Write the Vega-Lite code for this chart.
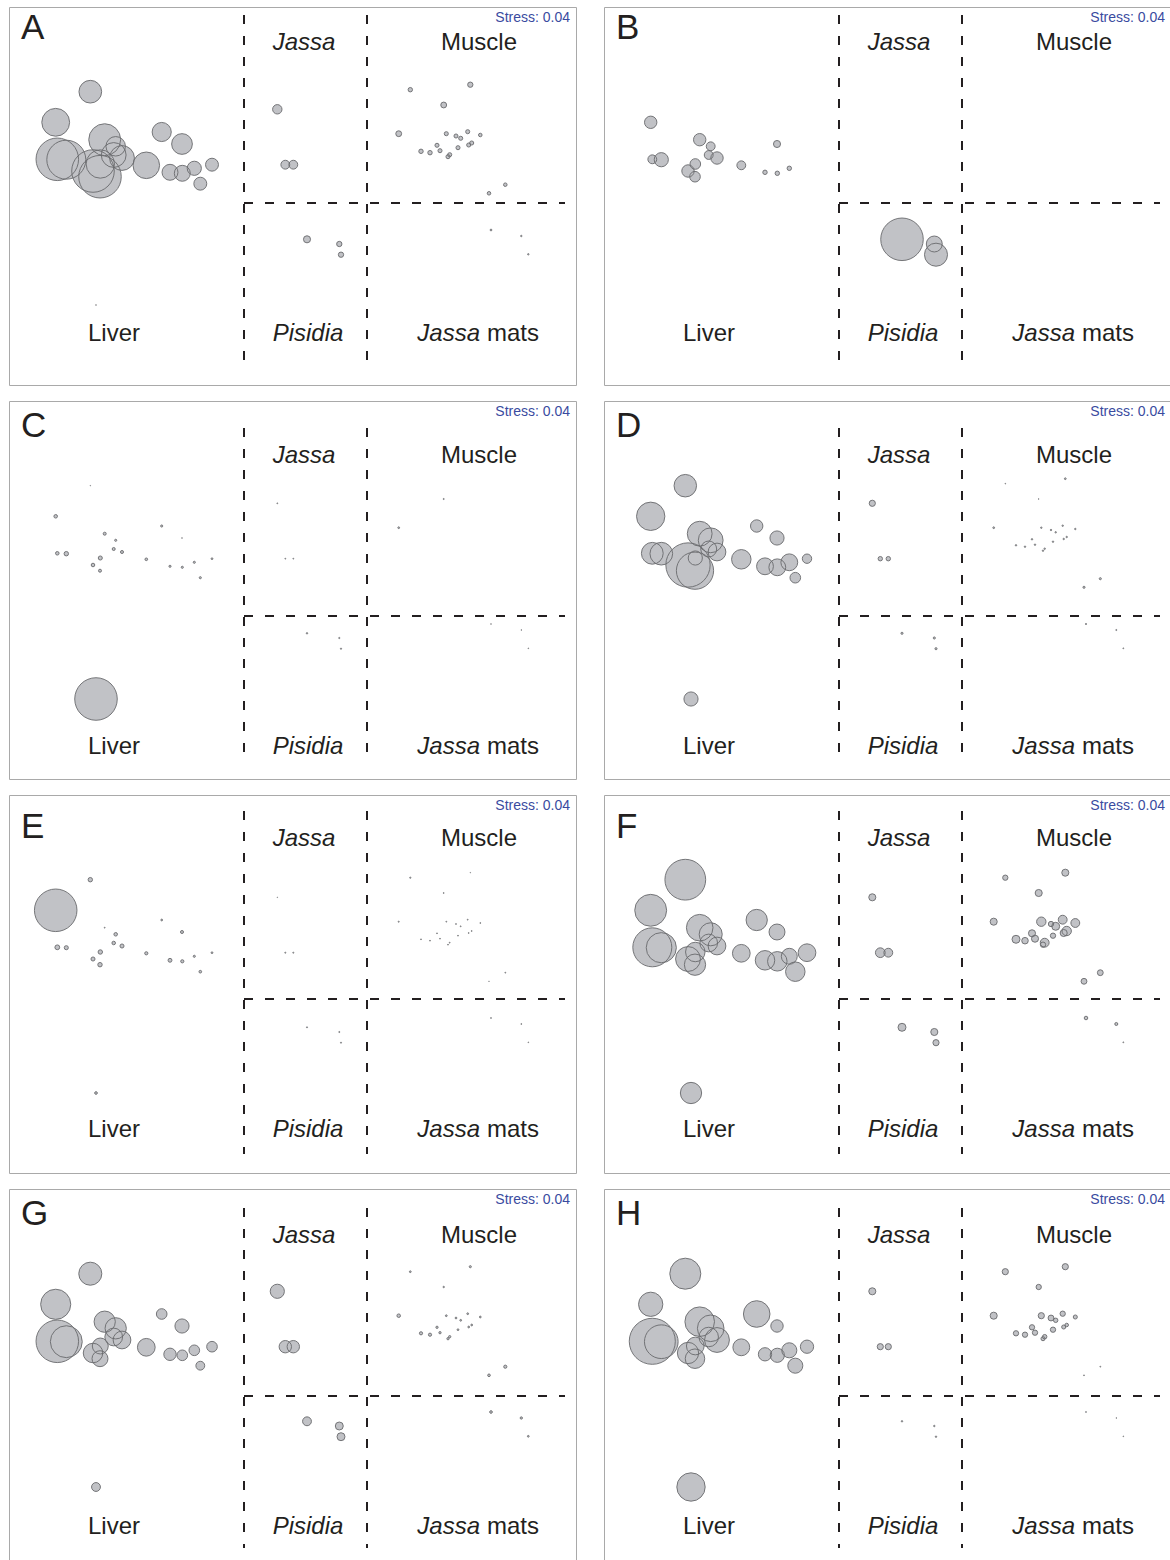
{
 "$schema": "https://vega.github.io/schema/vega-lite/v6.json",
 "padding": {"left": 8, "top": 6, "right": 0, "bottom": 0},
 "background": "white",
 "datasets": {
  "pos": [
   {"id":"L0","x":81.3,"y":84.7},{"id":"L1","x":46.7,"y":115.3},{"id":"L2","x":48.3,"y":152.3},{"id":"L3","x":57.3,"y":152.7},
   {"id":"L4","x":95.7,"y":132.7},{"id":"L5","x":106.7,"y":139.3},{"id":"L6","x":104.7,"y":148},{"id":"L7","x":113,"y":151},
   {"id":"L8","x":91.3,"y":157},{"id":"L9","x":84,"y":164},{"id":"L10","x":91,"y":169.7},{"id":"L11","x":137.3,"y":158.3},
   {"id":"L12","x":152.7,"y":125},{"id":"L13","x":173,"y":137},{"id":"L14","x":161,"y":165.3},{"id":"L15","x":173.3,"y":166.3},
   {"id":"L16","x":185.3,"y":161.3},{"id":"L17","x":203,"y":157.7},{"id":"L18","x":191.3,"y":176.7},{"id":"L19","x":87,"y":298},
   {"id":"J1","x":268.3,"y":102.3},{"id":"J2","x":276.3,"y":157.7},{"id":"J3","x":284.3,"y":157.7},
   {"id":"P1","x":298,"y":232.3},{"id":"P2","x":330.3,"y":237},{"id":"P3","x":332,"y":247.7},
   {"id":"M1","x":401.3,"y":82.7},{"id":"M2","x":461.3,"y":77.7},{"id":"M3","x":434.7,"y":98},{"id":"M4","x":389.7,"y":126.7},
   {"id":"M5","x":437.3,"y":126.7},{"id":"M6","x":447,"y":129},{"id":"M7","x":451.7,"y":131.3},{"id":"M8","x":458.7,"y":124.7},
   {"id":"M9","x":471.3,"y":128},{"id":"M10","x":462.7,"y":136},{"id":"M11","x":459.7,"y":138},{"id":"M12","x":449,"y":140.7},
   {"id":"M13","x":428,"y":138.3},{"id":"M14","x":431,"y":143.7},{"id":"M15","x":440.7,"y":147.7},{"id":"M16","x":439,"y":149.7},
   {"id":"M17","x":412,"y":144.3},{"id":"M18","x":421,"y":145.7},{"id":"M19","x":496.3,"y":177.7},{"id":"M20","x":480,"y":186.3},
   {"id":"JM1","x":482,"y":223},{"id":"JM2","x":512.3,"y":229},{"id":"JM3","x":519.3,"y":247.3}
  ],
  "sizes": [
   {"p":"A","id":"L0","r":12.8},{"p":"A","id":"L1","r":15.7},{"p":"A","id":"L2","r":24},{"p":"A","id":"L3","r":22},
   {"p":"A","id":"L4","r":18},{"p":"A","id":"L5","r":11},{"p":"A","id":"L6","r":14},{"p":"A","id":"L7","r":14},
   {"p":"A","id":"L8","r":16},{"p":"A","id":"L9","r":24},{"p":"A","id":"L10","r":24},{"p":"A","id":"L11","r":15},
   {"p":"A","id":"L12","r":10.8},{"p":"A","id":"L13","r":11.7},{"p":"A","id":"L14","r":9},{"p":"A","id":"L15","r":9},
   {"p":"A","id":"L16","r":8},{"p":"A","id":"L17","r":7.3},{"p":"A","id":"L18","r":7.3},{"p":"A","id":"L19","r":0.4},
   {"p":"A","id":"J1","r":5.3},{"p":"A","id":"J2","r":5},{"p":"A","id":"J3","r":5},
   {"p":"A","id":"P1","r":4},{"p":"A","id":"P2","r":3},{"p":"A","id":"P3","r":3},
   {"p":"A","id":"M1","r":2.5},{"p":"A","id":"M2","r":3},{"p":"A","id":"M3","r":3.3},{"p":"A","id":"M4","r":3.3},
   {"p":"A","id":"M5","r":2.3},{"p":"A","id":"M6","r":2.3},{"p":"A","id":"M7","r":2.3},{"p":"A","id":"M8","r":2.3},
   {"p":"A","id":"M9","r":2},{"p":"A","id":"M10","r":2.3},{"p":"A","id":"M11","r":2.3},{"p":"A","id":"M12","r":2.3},
   {"p":"A","id":"M13","r":2.3},{"p":"A","id":"M14","r":2.3},{"p":"A","id":"M15","r":2.3},{"p":"A","id":"M16","r":2.3},
   {"p":"A","id":"M17","r":2.5},{"p":"A","id":"M18","r":2.5},{"p":"A","id":"M19","r":2},{"p":"A","id":"M20","r":2},
   {"p":"A","id":"JM1","r":1},{"p":"A","id":"JM2","r":0.8},{"p":"A","id":"JM3","r":0.8},

   {"p":"B","id":"L1","r":7},{"p":"B","id":"L2","r":5},{"p":"B","id":"L3","r":8},{"p":"B","id":"L4","r":7},
   {"p":"B","id":"L5","r":5},{"p":"B","id":"L6","r":5},{"p":"B","id":"L7","r":7},{"p":"B","id":"L8","r":6},
   {"p":"B","id":"L9","r":7},{"p":"B","id":"L10","r":6},{"p":"B","id":"L11","r":5},{"p":"B","id":"L13","r":4},
   {"p":"B","id":"L14","r":2.5},{"p":"B","id":"L15","r":2.5},{"p":"B","id":"L16","r":2.5},
   {"p":"B","id":"P1","r":24},{"p":"B","id":"P2","r":9},{"p":"B","id":"P3","r":13},

   {"p":"C","id":"L0","r":0.3},{"p":"C","id":"L1","r":2},{"p":"C","id":"L2","r":2},{"p":"C","id":"L3","r":2.5},
   {"p":"C","id":"L4","r":1.7},{"p":"C","id":"L5","r":1.2},{"p":"C","id":"L6","r":1.7},{"p":"C","id":"L7","r":1.7},
   {"p":"C","id":"L8","r":2.3},{"p":"C","id":"L9","r":2},{"p":"C","id":"L10","r":1.7},{"p":"C","id":"L11","r":1.5},
   {"p":"C","id":"L12","r":1.2},{"p":"C","id":"L13","r":0.4},{"p":"C","id":"L14","r":1.2},{"p":"C","id":"L15","r":1.2},
   {"p":"C","id":"L16","r":1.2},{"p":"C","id":"L17","r":1},{"p":"C","id":"L18","r":1.2},{"p":"C","id":"L19","r":24},
   {"p":"C","id":"J1","r":0.5},{"p":"C","id":"J2","r":0.5},{"p":"C","id":"J3","r":0.5},
   {"p":"C","id":"P1","r":0.8},{"p":"C","id":"P2","r":0.7},{"p":"C","id":"P3","r":0.7},
   {"p":"C","id":"M3","r":0.6},{"p":"C","id":"M4","r":1},
   {"p":"C","id":"JM1","r":0.4},{"p":"C","id":"JM2","r":0.4},{"p":"C","id":"JM3","r":0.4},

   {"p":"D","id":"L0","r":12.7},{"p":"D","id":"L1","r":16},{"p":"D","id":"L2","r":12.3},{"p":"D","id":"L3","r":12.8},
   {"p":"D","id":"L4","r":14},{"p":"D","id":"L5","r":14},{"p":"D","id":"L6","r":9},{"p":"D","id":"L7","r":10},
   {"p":"D","id":"L8","r":8},{"p":"D","id":"L9","r":25},{"p":"D","id":"L10","r":21},{"p":"D","id":"L11","r":11},
   {"p":"D","id":"L12","r":7},{"p":"D","id":"L13","r":8},{"p":"D","id":"L14","r":9.5},{"p":"D","id":"L15","r":9.5},
   {"p":"D","id":"L16","r":9.5},{"p":"D","id":"L17","r":5.3},{"p":"D","id":"L18","r":6},{"p":"D","id":"L19","r":8},
   {"p":"D","id":"J1","r":3.5},{"p":"D","id":"J2","r":2.5},{"p":"D","id":"J3","r":2.5},
   {"p":"D","id":"P1","r":1.2},{"p":"D","id":"P2","r":1.2},{"p":"D","id":"P3","r":1.2},
   {"p":"D","id":"M1","r":0.4},{"p":"D","id":"M2","r":1},{"p":"D","id":"M3","r":0.4},{"p":"D","id":"M4","r":1},
   {"p":"D","id":"M5","r":0.8},{"p":"D","id":"M6","r":0.8},{"p":"D","id":"M7","r":0.8},{"p":"D","id":"M8","r":0.8},
   {"p":"D","id":"M9","r":0.8},{"p":"D","id":"M10","r":0.8},{"p":"D","id":"M11","r":0.8},{"p":"D","id":"M12","r":0.8},
   {"p":"D","id":"M13","r":0.8},{"p":"D","id":"M14","r":0.8},{"p":"D","id":"M15","r":0.8},{"p":"D","id":"M16","r":0.8},
   {"p":"D","id":"M17","r":0.8},{"p":"D","id":"M18","r":0.8},{"p":"D","id":"M19","r":1.2},{"p":"D","id":"M20","r":1.2},
   {"p":"D","id":"JM1","r":0.7},{"p":"D","id":"JM2","r":0.6},{"p":"D","id":"JM3","r":0.5},

   {"p":"E","id":"L0","r":2.5},{"p":"E","id":"L1","r":24},{"p":"E","id":"L2","r":2.7},{"p":"E","id":"L3","r":2.3},
   {"p":"E","id":"L4","r":0.5},{"p":"E","id":"L5","r":2},{"p":"E","id":"L6","r":2},{"p":"E","id":"L7","r":2.3},
   {"p":"E","id":"L8","r":2.5},{"p":"E","id":"L9","r":2.3},{"p":"E","id":"L10","r":2.5},{"p":"E","id":"L11","r":1.8},
   {"p":"E","id":"L12","r":1},{"p":"E","id":"L13","r":1.7},{"p":"E","id":"L14","r":2.2},{"p":"E","id":"L15","r":1.8},
   {"p":"E","id":"L16","r":1.2},{"p":"E","id":"L17","r":1},{"p":"E","id":"L18","r":1.5},{"p":"E","id":"L19","r":1.5},
   {"p":"E","id":"J1","r":0.3},{"p":"E","id":"J2","r":0.6},{"p":"E","id":"J3","r":0.6},
   {"p":"E","id":"P1","r":0.6},{"p":"E","id":"P2","r":0.6},{"p":"E","id":"P3","r":0.6},
   {"p":"E","id":"M1","r":0.7},{"p":"E","id":"M2","r":0.3},{"p":"E","id":"M3","r":0.5},{"p":"E","id":"M4","r":0.6},
   {"p":"E","id":"M5","r":0.5},{"p":"E","id":"M6","r":0.5},{"p":"E","id":"M7","r":0.5},{"p":"E","id":"M8","r":0.5},
   {"p":"E","id":"M9","r":0.5},{"p":"E","id":"M10","r":0.5},{"p":"E","id":"M11","r":0.5},{"p":"E","id":"M12","r":0.5},
   {"p":"E","id":"M13","r":0.5},{"p":"E","id":"M14","r":0.5},{"p":"E","id":"M15","r":0.5},{"p":"E","id":"M16","r":0.5},
   {"p":"E","id":"M17","r":0.5},{"p":"E","id":"M18","r":0.5},{"p":"E","id":"M19","r":0.5},{"p":"E","id":"M20","r":0.3},
   {"p":"E","id":"JM1","r":0.5},{"p":"E","id":"JM2","r":0.5},{"p":"E","id":"JM3","r":0.4},

   {"p":"F","id":"L0","r":23},{"p":"F","id":"L1","r":18},{"p":"F","id":"L2","r":22},{"p":"F","id":"L3","r":17},
   {"p":"F","id":"L4","r":15},{"p":"F","id":"L5","r":13},{"p":"F","id":"L6","r":10},{"p":"F","id":"L7","r":10},
   {"p":"F","id":"L8","r":11},{"p":"F","id":"L9","r":14},{"p":"F","id":"L10","r":12},{"p":"F","id":"L11","r":10},
   {"p":"F","id":"L12","r":12},{"p":"F","id":"L13","r":9},{"p":"F","id":"L14","r":11},{"p":"F","id":"L15","r":11},
   {"p":"F","id":"L16","r":9},{"p":"F","id":"L17","r":10},{"p":"F","id":"L18","r":11},{"p":"F","id":"L19","r":12},
   {"p":"F","id":"J1","r":4},{"p":"F","id":"J2","r":5.5},{"p":"F","id":"J3","r":5},
   {"p":"F","id":"P1","r":4.5},{"p":"F","id":"P2","r":4},{"p":"F","id":"P3","r":3.5},
   {"p":"F","id":"M1","r":3},{"p":"F","id":"M2","r":4},{"p":"F","id":"M3","r":4},{"p":"F","id":"M4","r":4},
   {"p":"F","id":"M5","r":5.3},{"p":"F","id":"M6","r":3},{"p":"F","id":"M7","r":4.5},{"p":"F","id":"M8","r":5},
   {"p":"F","id":"M9","r":5},{"p":"F","id":"M10","r":5.3},{"p":"F","id":"M11","r":4},{"p":"F","id":"M12","r":3},
   {"p":"F","id":"M13","r":4},{"p":"F","id":"M14","r":4},{"p":"F","id":"M15","r":5},{"p":"F","id":"M16","r":3},
   {"p":"F","id":"M17","r":4.5},{"p":"F","id":"M18","r":3.7},{"p":"F","id":"M19","r":3.3},{"p":"F","id":"M20","r":3.3},
   {"p":"F","id":"JM1","r":2},{"p":"F","id":"JM2","r":1.7},{"p":"F","id":"JM3","r":0.5},

   {"p":"G","id":"L0","r":13},{"p":"G","id":"L1","r":17},{"p":"G","id":"L2","r":24},{"p":"G","id":"L3","r":18},
   {"p":"G","id":"L4","r":12},{"p":"G","id":"L5","r":12},{"p":"G","id":"L6","r":10},{"p":"G","id":"L7","r":10},
   {"p":"G","id":"L8","r":9},{"p":"G","id":"L9","r":11},{"p":"G","id":"L10","r":9},{"p":"G","id":"L11","r":10},
   {"p":"G","id":"L12","r":6},{"p":"G","id":"L13","r":8},{"p":"G","id":"L14","r":7},{"p":"G","id":"L15","r":6},
   {"p":"G","id":"L16","r":6},{"p":"G","id":"L17","r":6},{"p":"G","id":"L18","r":5},{"p":"G","id":"L19","r":5},
   {"p":"G","id":"J1","r":8},{"p":"G","id":"J2","r":7},{"p":"G","id":"J3","r":7},
   {"p":"G","id":"P1","r":5},{"p":"G","id":"P2","r":4.5},{"p":"G","id":"P3","r":4.5},
   {"p":"G","id":"M1","r":1},{"p":"G","id":"M2","r":1.2},{"p":"G","id":"M3","r":0.8},{"p":"G","id":"M4","r":2},
   {"p":"G","id":"M5","r":1},{"p":"G","id":"M6","r":1},{"p":"G","id":"M7","r":1},{"p":"G","id":"M8","r":1},
   {"p":"G","id":"M9","r":1},{"p":"G","id":"M10","r":1},{"p":"G","id":"M11","r":1},{"p":"G","id":"M12","r":1},
   {"p":"G","id":"M13","r":1.3},{"p":"G","id":"M14","r":1.3},{"p":"G","id":"M15","r":1.3},{"p":"G","id":"M16","r":1.3},
   {"p":"G","id":"M17","r":1.8},{"p":"G","id":"M18","r":1.8},{"p":"G","id":"M19","r":1.8},{"p":"G","id":"M20","r":1.5},
   {"p":"G","id":"JM1","r":1.5},{"p":"G","id":"JM2","r":1.3},{"p":"G","id":"JM3","r":1},

   {"p":"H","id":"L0","r":17.5},{"p":"H","id":"L1","r":13.7},{"p":"H","id":"L2","r":26},{"p":"H","id":"L3","r":19},
   {"p":"H","id":"L4","r":16.7},{"p":"H","id":"L5","r":15},{"p":"H","id":"L6","r":11},{"p":"H","id":"L7","r":14},
   {"p":"H","id":"L8","r":10},{"p":"H","id":"L9","r":12},{"p":"H","id":"L10","r":11},{"p":"H","id":"L11","r":9.5},
   {"p":"H","id":"L12","r":15},{"p":"H","id":"L13","r":7},{"p":"H","id":"L14","r":7.5},{"p":"H","id":"L15","r":8},
   {"p":"H","id":"L16","r":8.5},{"p":"H","id":"L17","r":7.5},{"p":"H","id":"L18","r":8.5},{"p":"H","id":"L19","r":16},
   {"p":"H","id":"J1","r":4},{"p":"H","id":"J2","r":3.5},{"p":"H","id":"J3","r":3.5},
   {"p":"H","id":"P1","r":0.8},{"p":"H","id":"P2","r":0.8},{"p":"H","id":"P3","r":0.8},
   {"p":"H","id":"M1","r":3.5},{"p":"H","id":"M2","r":3.5},{"p":"H","id":"M3","r":3},{"p":"H","id":"M4","r":4},
   {"p":"H","id":"M5","r":3.5},{"p":"H","id":"M6","r":3.3},{"p":"H","id":"M7","r":2.5},{"p":"H","id":"M8","r":3},
   {"p":"H","id":"M9","r":2.3},{"p":"H","id":"M10","r":2},{"p":"H","id":"M11","r":2.3},{"p":"H","id":"M12","r":3},
   {"p":"H","id":"M13","r":3},{"p":"H","id":"M14","r":3},{"p":"H","id":"M15","r":2.5},{"p":"H","id":"M16","r":2.3},
   {"p":"H","id":"M17","r":3},{"p":"H","id":"M18","r":3},{"p":"H","id":"M19","r":0.5},{"p":"H","id":"M20","r":0.5},
   {"p":"H","id":"JM1","r":0.5},{"p":"H","id":"JM2","r":0.4},{"p":"H","id":"JM3","r":0.4}
  ]
 },
 "data": {"name": "sizes"},
 "transform": [{"lookup": "id", "from": {"data": {"name": "pos"}, "key": "id", "fields": ["x", "y"]}}],
 "facet": {"field": "p", "type": "nominal", "title": null, "header": {"title": null, "labelExpr": "''", "labelFontSize": 0, "labelPadding": 0, "labelColor": "transparent"}},
 "columns": 2,
 "spacing": {"row": 14, "column": 26},
 "spec": {
  "width": 567,
  "height": 378,
  "layer": [
   {"mark": {"type": "circle", "color": "#c1c2c6", "opacity": 1, "strokeWidth": 0},
    "encoding": {
     "x": {"field": "x", "type": "quantitative", "scale": {"domain": [0, 567], "nice": false, "zero": false}, "axis": null},
     "y": {"field": "y", "type": "quantitative", "scale": {"domain": [0, 378], "nice": false, "zero": false, "reverse": true}, "axis": null},
     "size": {"field": "r", "type": "quantitative", "scale": {"type": "pow", "exponent": 2, "domain": [0, 30], "range": [0, 2827.43]}, "legend": null}
    }},
   {"mark": {"type": "circle", "filled": false, "color": "#6a6b6e", "strokeWidth": 1, "opacity": 0.9},
    "encoding": {
     "x": {"field": "x", "type": "quantitative", "axis": null},
     "y": {"field": "y", "type": "quantitative", "axis": null},
     "size": {"field": "r", "type": "quantitative", "legend": null}
    }},
   {
    "transform": [{"aggregate": [{"op": "count", "as": "n"}], "groupby": ["p"]}],
    "layer": [
     {"mark": {"type": "rule", "strokeDash": [9, 12], "strokeWidth": 2, "color": "#231f20", "yOffset": {"expr": "({'A':0,'B':0,'C':19,'D':19,'E':8,'F':8,'G':11,'H':11})[datum.p]"}},
      "encoding": {"x": {"datum": 235}, "y": {"datum": 8}, "y2": {"datum": 359}}},
     {"mark": {"type": "rule", "strokeDash": [9, 12], "strokeWidth": 2, "color": "#231f20", "yOffset": {"expr": "({'A':0,'B':0,'C':19,'D':19,'E':8,'F':8,'G':11,'H':11})[datum.p]"}},
      "encoding": {"x": {"datum": 358}, "y": {"datum": 8}, "y2": {"datum": 359}}},
     {"mark": {"type": "rule", "strokeDash": [9, 12], "strokeWidth": 2, "color": "#231f20", "yOffset": {"expr": "({'A':0,'B':0,'C':19,'D':19,'E':8,'F':8,'G':11,'H':11})[datum.p]"}},
      "encoding": {"x": {"datum": 235}, "x2": {"datum": 556}, "y": {"datum": 196}}},
     {"mark": {"type": "text", "align": "center", "baseline": "alphabetic", "fontSize": 24, "font": "Liberation Sans", "fontStyle": "italic", "color": "#231f20", "text": "Jassa", "dy": {"expr": "({'A':0,'B':0,'C':19,'D':19,'E':8,'F':8,'G':11,'H':11})[datum.p]"}},
      "encoding": {"x": {"datum": 295}, "y": {"datum": 43}}},
     {"mark": {"type": "text", "align": "center", "baseline": "alphabetic", "fontSize": 24, "font": "Liberation Sans", "color": "#231f20", "text": "Muscle", "dy": {"expr": "({'A':0,'B':0,'C':19,'D':19,'E':8,'F':8,'G':11,'H':11})[datum.p]"}},
      "encoding": {"x": {"datum": 470}, "y": {"datum": 43}}},
     {"mark": {"type": "text", "align": "center", "baseline": "alphabetic", "fontSize": 24, "font": "Liberation Sans", "color": "#231f20", "text": "Liver", "dy": {"expr": "({'A':0,'B':0,'C':19,'D':19,'E':8,'F':8,'G':11,'H':11})[datum.p]"}},
      "encoding": {"x": {"datum": 105}, "y": {"datum": 334}}},
     {"mark": {"type": "text", "align": "center", "baseline": "alphabetic", "fontSize": 24, "font": "Liberation Sans", "fontStyle": "italic", "color": "#231f20", "text": "Pisidia", "dy": {"expr": "({'A':0,'B':0,'C':19,'D':19,'E':8,'F':8,'G':11,'H':11})[datum.p]"}},
      "encoding": {"x": {"datum": 299}, "y": {"datum": 334}}},
     {"mark": {"type": "text", "align": "right", "baseline": "alphabetic", "fontSize": 24, "font": "Liberation Sans", "fontStyle": "italic", "color": "#231f20", "text": "Jassa", "dy": {"expr": "({'A':0,'B':0,'C':19,'D':19,'E':8,'F':8,'G':11,'H':11})[datum.p]"}},
      "encoding": {"x": {"datum": 471}, "y": {"datum": 334}}},
     {"mark": {"type": "text", "align": "left", "baseline": "alphabetic", "fontSize": 24, "font": "Liberation Sans", "color": "#231f20", "text": "mats", "dy": {"expr": "({'A':0,'B':0,'C':19,'D':19,'E':8,'F':8,'G':11,'H':11})[datum.p]"}},
      "encoding": {"x": {"datum": 478}, "y": {"datum": 334}}},
     {"mark": {"type": "text", "align": "left", "baseline": "alphabetic", "fontSize": 35, "font": "Liberation Sans", "color": "#231f20", "dy": {"expr": "({'A':0,'B':0,'C':4,'D':4,'E':11,'F':11,'G':4,'H':4})[datum.p]"}},
      "encoding": {"x": {"datum": 12}, "y": {"datum": 32}, "text": {"field": "p"}}},
     {"mark": {"type": "text", "align": "right", "baseline": "alphabetic", "fontSize": 14, "font": "Liberation Sans", "color": "#3a4b9f", "text": "Stress: 0.04"},
      "encoding": {"x": {"datum": 561}, "y": {"datum": 15}}}
    ]
   }
  ]
 },
 "config": {
  "view": {"stroke": "#a9a9a9", "strokeWidth": 1},
  "axis": {"disable": true},
  "legend": {"disable": true}
 }
}
